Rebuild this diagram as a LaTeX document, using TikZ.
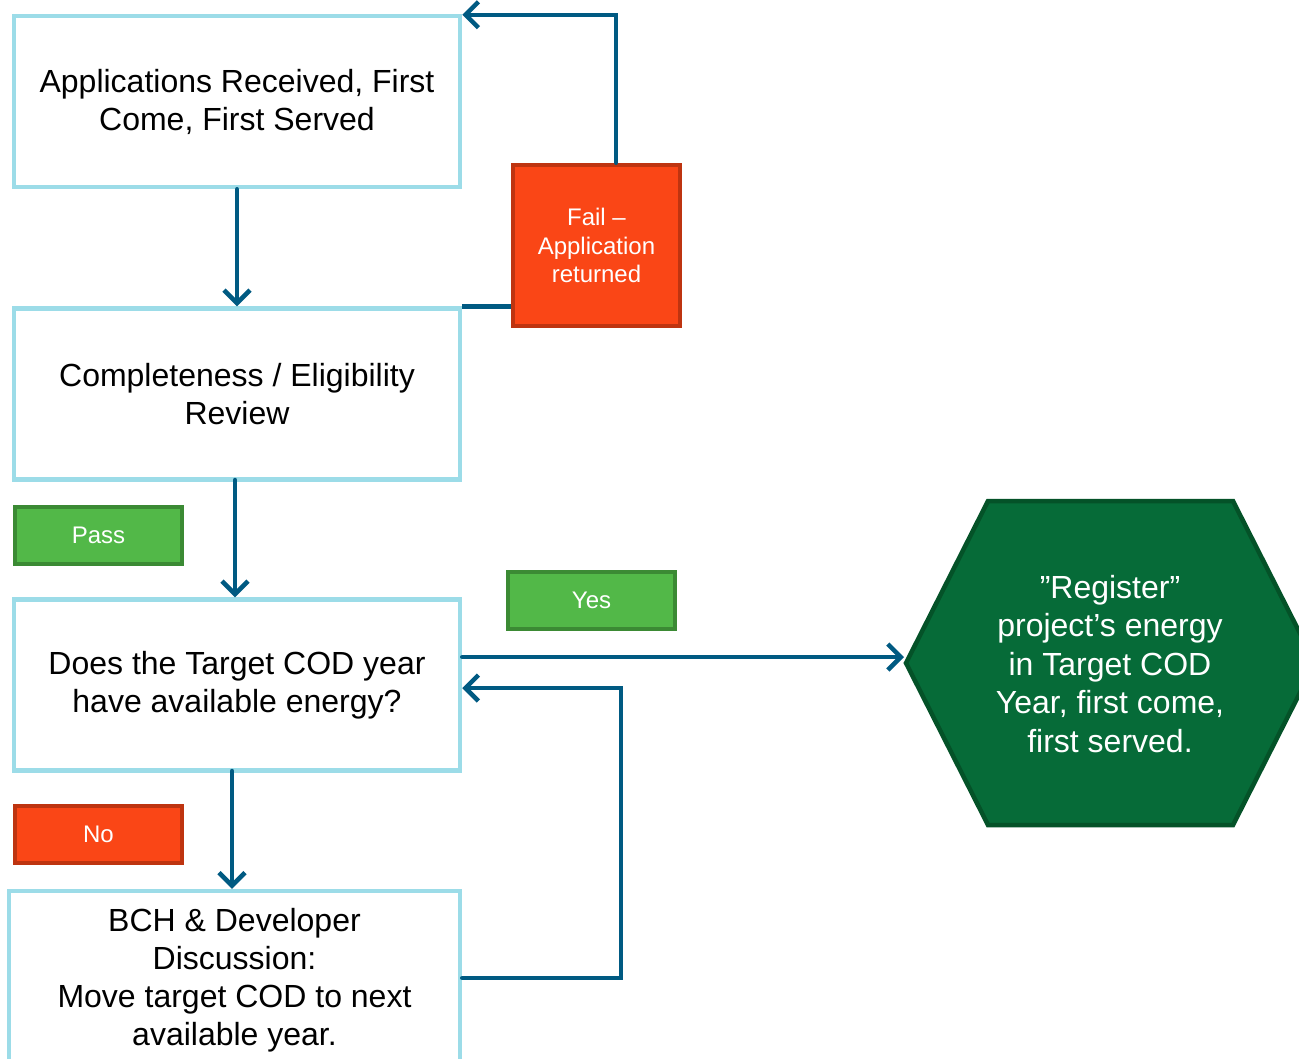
\documentclass[tikz,border=0pt]{standalone}
\usepackage{fontspec}
\setmainfont{Liberation Sans}
\usetikzlibrary{arrows.meta,calc}
\definecolor{boxline}{RGB}{156,220,232}
\definecolor{conn}{RGB}{0,90,130}
\definecolor{redfill}{RGB}{250,70,22}
\definecolor{redline}{RGB}{190,52,16}
\definecolor{greenfill}{RGB}{82,184,72}
\definecolor{greenline}{RGB}{59,138,52}
\definecolor{hexfill}{RGB}{6,107,56}
\definecolor{hexline}{RGB}{4,82,40}
\tikzset{
  mainbox/.style={draw=boxline, line width=4.5pt, fill=white, inner sep=0pt,
    minimum width=446pt, minimum height=171pt, align=center,
    font=\fontsize{32}{38}\selectfont},
  redbox/.style={draw=redline, line width=4.5pt, fill=redfill, inner sep=0pt,
    align=center, text=white, font=\fontsize{24}{28.5}\selectfont},
  greenbox/.style={draw=greenline, line width=4.5pt, fill=greenfill, inner sep=0pt,
    align=center, text=white, font=\fontsize{24}{28.5}\selectfont},
  conline/.style={draw=conn, line width=4.5pt},
  arr/.style={conline, line cap=round, -{Straight Barb[length=13pt,width=26pt,line width=4.5pt]}},
}
\begin{document}
\begin{tikzpicture}[x=1pt,y=-1pt]
\useasboundingbox (0,0) rectangle (1299,1058);
\clip (0,0) rectangle (1299,1058);
\fill[white] (0,0) rectangle (1299,1058);

\node[mainbox] (b1) at (237,101.5) {\rule{0pt}{6pt}Applications Received, First\\Come, First Served};
\node[mainbox] (b2) at (237,394) {Completeness / Eligibility\\Review};
\node[mainbox] (b3) at (237,685) {\rule{0pt}{8pt}Does the Target COD year\\have available energy?};
\node[mainbox, minimum width=451pt, minimum height=179pt] (b4) at (234.5,980.5)
  {BCH \& Developer\\Discussion:\\Move target COD to next\\available year.};

\node[redbox, minimum width=167pt, minimum height=161pt] (fail) at (596.5,245.5)
  {Fail --\\Application\\returned};
\node[greenbox, minimum width=167pt, minimum height=57pt] (pass) at (98.5,535.5) {Pass};
\node[greenbox, minimum width=167pt, minimum height=57pt] (yes) at (591.5,600.5) {Yes};
\node[redbox, minimum width=167pt, minimum height=57pt] (no) at (98.5,834.5) {No};

% hexagon
\draw[draw=hexline, fill=hexfill, line width=4.5pt, line join=miter]
  (906,663) -- (988,501) -- (1233,501) -- (1315,663) -- (1233,825) -- (988,825) -- cycle;
\coordinate (hexL) at (904,657);
\node[align=center, text=white, font=\fontsize{32}{38.5}\selectfont] (hex) at (1110,664)
  {"Register''\\project’s energy\\in Target COD\\Year, first come,\\first served.};

% connectors
\draw[arr] (b1.south) -- (b2.north);
\draw[arr] (235,480) coordinate (b2s) (b2s) -- (b2s |- b3.north);
\draw[arr] (232,771) coordinate (b3s) (b3s) -- (b3s |- b4.north);
\draw[arr] ($(fail.north)+(19.5,0)$) |- ($(b1.north east)+(0,1)$);
\draw[conline] (b2.north east) -- (b2.north east -| fail.west);
\draw[arr] (b3.east |- hexL) -- (hexL);
\draw[arr, line join=miter] (b4.east |- 0,978) -| (621,688) -- (b3.east |- 0,688);
\end{tikzpicture}
\end{document}
